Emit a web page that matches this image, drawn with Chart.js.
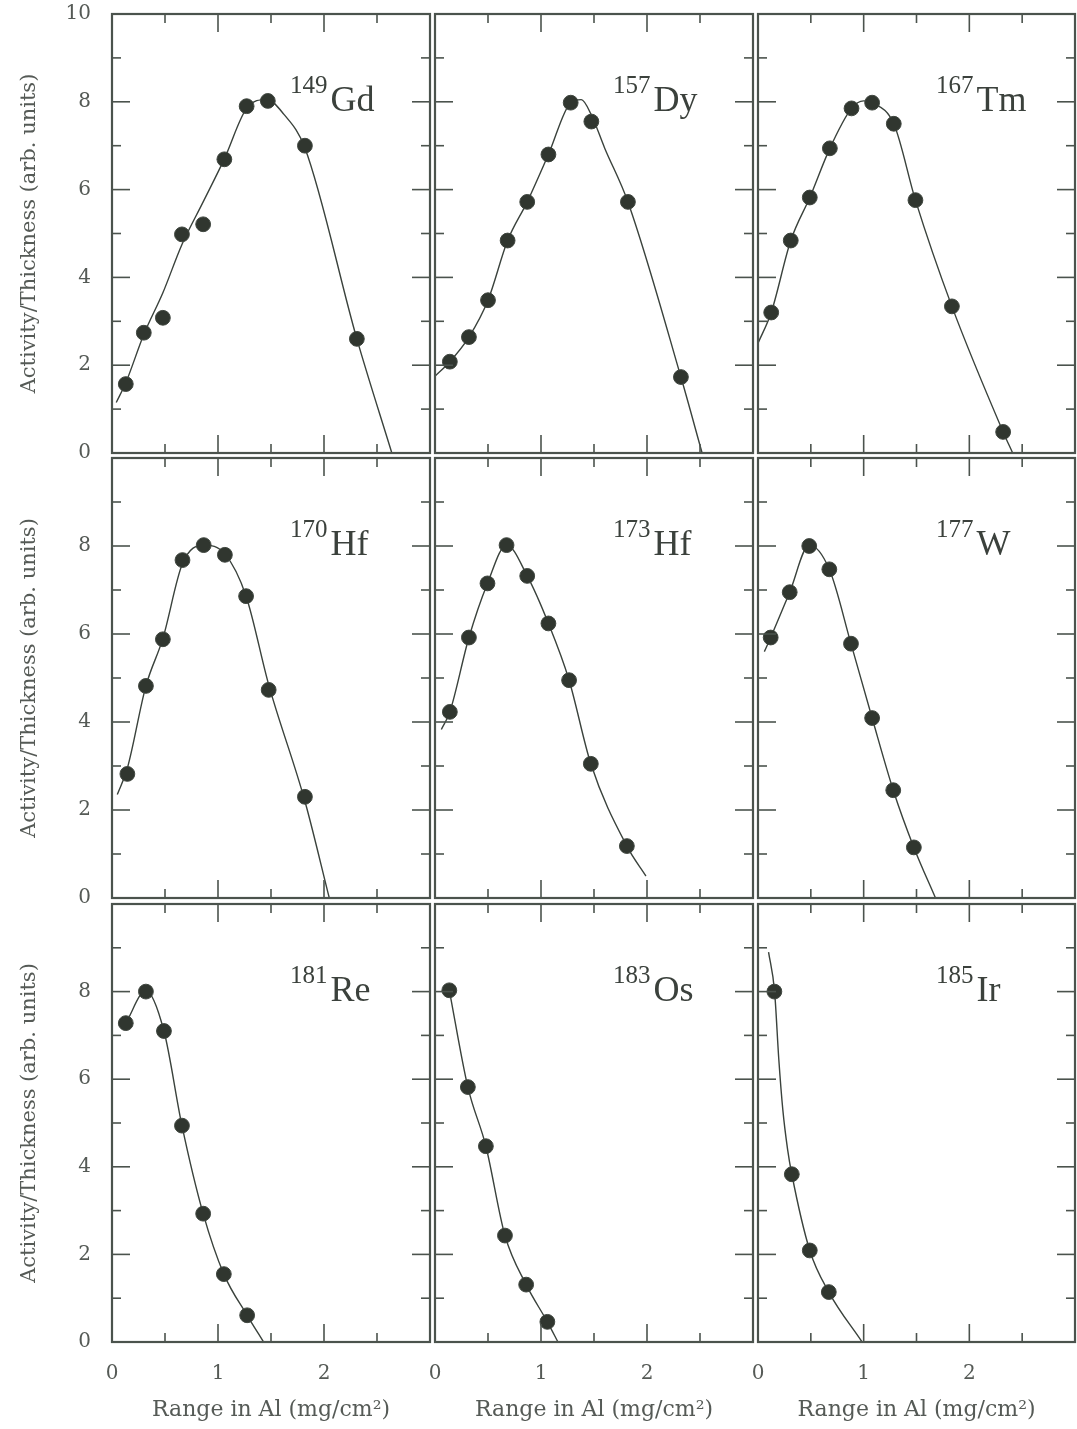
<!DOCTYPE html>
<html lang="en">
<head>
<meta charset="UTF-8">
<title>Activity/Thickness vs Range in Al</title>
<script src="https://cdn.jsdelivr.net/npm/chart.js@4.4.1/dist/chart.umd.min.js"></script>
<style>
  html, body { margin: 0; padding: 0; background: #fff; }
  .page { position: relative; width: 1077px; height: 1429px; overflow: hidden; background: #fff; }
  .page canvas { position: absolute; }
</style>
</head>
<body>
<div class="page" id="page"></div>
<script>
// =-=-=-=-=-=-=-=-=-=-=-=- data -=-=-=-=-=-=-=-=-=-=-=-=
const xTicks = [0, 1, 2];
const xMinor = [0.5, 1.5, 2.5];
const yTicks = [0, 2, 4, 6, 8, 10];
const yMinor = [1, 3, 5, 7, 9];

const massNumbers = ['149', '157', '167', '170', '173', '177', '181', '183', '185'];
const elements = ['Gd', 'Dy', 'Tm', 'Hf', 'Hf', 'W', 'Re', 'Os', 'Ir'];

// measured points [range, activity/thickness]
const gd149Points = [[0.13, 1.57], [0.30, 2.74], [0.48, 3.08], [0.66, 4.98], [0.86, 5.21], [1.06, 6.69], [1.27, 7.9], [1.47, 8.02], [1.82, 7.0], [2.31, 2.6]];
const dy157Points = [[0.14, 2.08], [0.32, 2.64], [0.50, 3.48], [0.685, 4.84], [0.87, 5.72], [1.07, 6.8], [1.28, 7.98], [1.475, 7.55], [1.82, 5.72], [2.32, 1.73]];
const tm167Points = [[0.125, 3.2], [0.31, 4.84], [0.49, 5.82], [0.68, 6.94], [0.885, 7.85], [1.08, 7.98], [1.285, 7.5], [1.49, 5.76], [1.835, 3.34], [2.32, 0.48]];
const hf170Points = [[0.145, 2.82], [0.32, 4.82], [0.48, 5.88], [0.665, 7.68], [0.865, 8.02], [1.065, 7.8], [1.265, 6.86], [1.478, 4.73], [1.82, 2.3]];
const hf173Points = [[0.14, 4.23], [0.32, 5.92], [0.495, 7.15], [0.675, 8.02], [0.87, 7.32], [1.07, 6.24], [1.265, 4.95], [1.47, 3.05], [1.81, 1.18]];
const w177Points = [[0.12, 5.92], [0.30, 6.95], [0.485, 8.0], [0.675, 7.47], [0.88, 5.78], [1.08, 4.09], [1.28, 2.45], [1.475, 1.15]];
const re181Points = [[0.13, 7.28], [0.32, 8.0], [0.49, 7.1], [0.66, 4.94], [0.86, 2.93], [1.055, 1.55], [1.275, 0.61]];
const os183Points = [[0.135, 8.03], [0.31, 5.82], [0.48, 4.47], [0.66, 2.43], [0.86, 1.31], [1.06, 0.46]];
const ir185Points = [[0.155, 8.0], [0.32, 3.83], [0.49, 2.09], [0.67, 1.14]];

// drawn curves
const gd149Curve = [[0.04, 1.15], [0.13, 1.6], [0.30, 2.7], [0.48, 3.65], [0.66, 4.75], [0.86, 5.72], [1.06, 6.7], [1.27, 7.85], [1.46, 8.05], [1.62, 7.72], [1.82, 6.95], [2.31, 2.6], [2.64, 0]];
const dy157Curve = [[0, 1.75], [0.14, 2.08], [0.32, 2.64], [0.50, 3.48], [0.685, 4.84], [0.87, 5.72], [1.07, 6.8], [1.28, 7.98], [1.38, 8.05], [1.475, 7.7], [1.6, 6.95], [1.82, 5.72], [2.32, 1.73], [2.52, 0]];
const tm167Curve = [[0, 2.5], [0.125, 3.2], [0.31, 4.84], [0.49, 5.82], [0.68, 6.94], [0.885, 7.85], [1.0, 8.02], [1.08, 7.98], [1.285, 7.5], [1.49, 5.76], [1.835, 3.34], [2.32, 0.48], [2.41, 0]];
const hf170Curve = [[0.05, 2.35], [0.145, 2.95], [0.32, 4.82], [0.48, 5.9], [0.665, 7.6], [0.865, 8.02], [1.065, 7.82], [1.265, 6.86], [1.478, 4.85], [1.82, 2.2], [2.05, 0]];
const hf173Curve = [[0.06, 3.83], [0.14, 4.23], [0.32, 5.92], [0.495, 7.15], [0.675, 8.02], [0.87, 7.32], [1.07, 6.24], [1.265, 4.95], [1.47, 3.05], [1.81, 1.18], [1.99, 0.5]];
const w177Curve = [[0.06, 5.6], [0.12, 5.92], [0.30, 6.95], [0.485, 8.02], [0.675, 7.47], [0.88, 5.78], [1.08, 4.09], [1.28, 2.45], [1.475, 1.15], [1.68, 0]];
const re181Curve = [[0.13, 7.28], [0.32, 8.02], [0.49, 7.1], [0.66, 4.94], [0.86, 2.93], [1.055, 1.55], [1.275, 0.61], [1.43, 0]];
const os183Curve = [[0.135, 8.03], [0.31, 5.82], [0.48, 4.47], [0.66, 2.43], [0.86, 1.31], [1.06, 0.46], [1.16, 0]];
const ir185Curve = [[0.10, 8.9], [0.157, 8.0], [0.197, 6.45], [0.235, 5.3], [0.28, 4.4], [0.32, 3.83], [0.49, 2.09], [0.67, 1.14], [0.985, 0]];

// =-=-=-=-=-=-=-=-=-=-=-=- layout -=-=-=-=-=-=-=-=-=-=-=-=
const pageW = 1077, pageH = 1429, margin = 60;
const colLeft = [112, 435, 758], colRight = [430, 753, 1075];
const rowTop = [14, 458, 904], rowBottom = [453, 898, 1342];

const lineColor = '#3a423c',
    dotColor = '#30362f',
    frameColor = '#4b534d',
    textColor = '#555a56',
    serif = '"DejaVu Serif", serif',
    timesFont = '"Liberation Serif", "Times New Roman", serif';

const panels = [
    { points: gd149Points, curve: gd149Curve },
    { points: dy157Points, curve: dy157Curve },
    { points: tm167Points, curve: tm167Curve },
    { points: hf170Points, curve: hf170Curve },
    { points: hf173Points, curve: hf173Curve },
    { points: w177Points, curve: w177Curve },
    { points: re181Points, curve: re181Curve },
    { points: os183Points, curve: os183Curve },
    { points: ir185Points, curve: ir185Curve },
];

function toXY(list) {
    return list.map(p => ({ x: p[0], y: p[1] }));
}

// frame, inward ticks on all sides and the isotope label
const framePlugin = {
    id: 'frame',
    afterDatasetsDraw(chart, args, options) {
        const { ctx, chartArea: a, scales: { x, y } } = chart;
        ctx.save();
        ctx.strokeStyle = frameColor;
        ctx.lineWidth = 1.6;

        const seg = (x1, y1, x2, y2) => {
            ctx.beginPath();
            ctx.moveTo(x1, y1);
            ctx.lineTo(x2, y2);
            ctx.stroke();
        };

        xTicks.concat([3]).forEach(v => {
            const px = x.getPixelForValue(v);
            seg(px, a.top, px, a.top + 18);
            seg(px, a.bottom, px, a.bottom - 18);
        });
        xMinor.forEach(v => {
            const px = x.getPixelForValue(v);
            seg(px, a.top, px, a.top + 9);
            seg(px, a.bottom, px, a.bottom - 9);
        });
        yTicks.forEach(v => {
            const py = y.getPixelForValue(v);
            seg(a.left, py, a.left + 18, py);
            seg(a.right, py, a.right - 18, py);
        });
        yMinor.forEach(v => {
            const py = y.getPixelForValue(v);
            seg(a.left, py, a.left + 9, py);
            seg(a.right, py, a.right - 9, py);
        });

        ctx.lineWidth = 2.2;
        ctx.strokeRect(a.left, a.top, a.right - a.left, a.bottom - a.top);

        // isotope label
        ctx.fillStyle = '#3b413c';
        ctx.textBaseline = 'alphabetic';
        ctx.textAlign = 'left';
        ctx.font = '25px ' + timesFont;
        const lx = a.left + 178;
        ctx.fillText(options.mass, lx, a.top + 79);
        const w = ctx.measureText(options.mass).width;
        ctx.font = '36px ' + timesFont;
        ctx.fillText(options.element, lx + w + 3, a.top + 97);
        ctx.restore();
    }
};

const page = document.getElementById('page');

panels.forEach((panel, i) => {
    const row = Math.floor(i / 3),
        col = i % 3;

    // every canvas covers the whole page plus a margin, the panel is placed by padding
    const canvas = document.createElement('canvas');
    canvas.width = pageW + 2 * margin;
    canvas.height = pageH + 2 * margin;
    canvas.style.left = -margin + 'px';
    canvas.style.top = -margin + 'px';
    page.appendChild(canvas);

    new Chart(canvas.getContext('2d'), {
        type: 'line',
        data: {
            datasets: [
                {
                    label: 'curve',
                    data: toXY(panel.curve),
                    borderColor: lineColor,
                    borderWidth: 1.4,
                    pointRadius: 0,
                    fill: false,
                    cubicInterpolationMode: 'monotone',
                    order: 2,
                },
                {
                    label: 'measured',
                    data: toXY(panel.points),
                    showLine: false,
                    pointRadius: 7.4,
                    pointBackgroundColor: dotColor,
                    pointBorderColor: '#3f463f',
                    pointBorderWidth: 1,
                    order: 1,
                },
            ]
        },
        options: {
            responsive: false,
            animation: false,
            events: [],
            layout: {
                padding: {
                    left: margin + (col === 0 ? 0 : colLeft[col]),
                    top: margin + rowTop[row],
                    right: margin + pageW - colRight[col],
                    bottom: margin + (row === 2 ? 0 : pageH - rowBottom[row]),
                }
            },
            scales: {
                x: {
                    type: 'linear',
                    min: 0,
                    max: 3,
                    display: row === 2,
                    afterFit: scale => { if (row === 2) scale.height = pageH - rowBottom[2]; },
                    afterBuildTicks: scale => { scale.ticks = xTicks.map(v => ({ value: v })); },
                    grid: { display: false, drawTicks: false },
                    border: { display: false },
                    ticks: {
                        padding: 20,
                        maxRotation: 0,
                        color: textColor,
                        font: { family: serif, size: 20 },
                    },
                    title: {
                        display: true,
                        text: 'Range in Al (mg/cm²)',
                        color: textColor,
                        font: { family: serif, size: 22 },
                        padding: { top: 0, bottom: 6 },
                    }
                },
                y: {
                    type: 'linear',
                    min: 0,
                    max: 10,
                    display: col === 0,
                    afterFit: scale => { if (col === 0) scale.width = colLeft[0]; },
                    afterBuildTicks: scale => {
                        const list = row === 0 ? yTicks : yTicks.filter(v => v < 10);
                        scale.ticks = list.map(v => ({ value: v }));
                    },
                    grid: { display: false, drawTicks: false },
                    border: { display: false },
                    ticks: {
                        padding: 21,
                        color: textColor,
                        font: { family: serif, size: 20 },
                    },
                    title: {
                        display: true,
                        text: 'Activity/Thickness (arb. units)',
                        color: textColor,
                        font: { family: serif, size: 21 },
                        padding: { top: 17, bottom: 0 },
                    }
                }
            },
            plugins: {
                legend: { display: false },
                tooltip: { enabled: false },
                frame: {
                    mass: massNumbers[i],
                    element: elements[i],
                }
            }
        },
        plugins: [framePlugin]
    });
});
</script>
</body>
</html>
